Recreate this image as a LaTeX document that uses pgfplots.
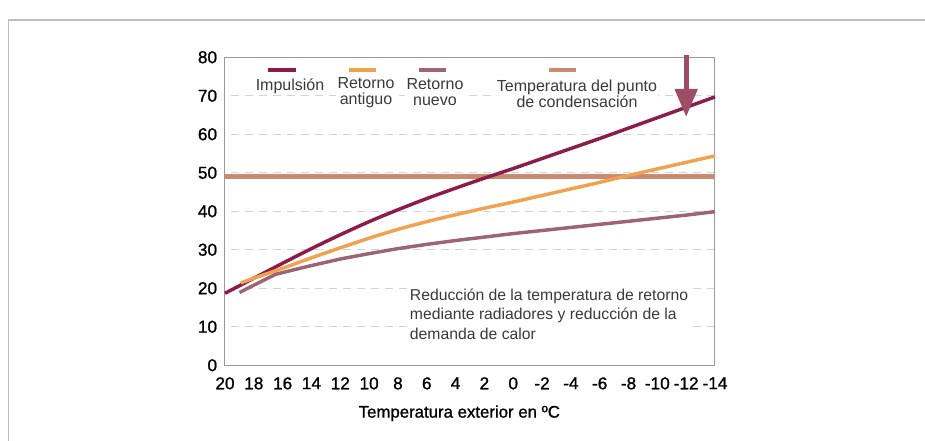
\documentclass[border=0pt]{standalone}
\usepackage{pgfplots}
\pgfplotsset{compat=1.18}
\usepackage{fontspec}
\setmainfont{Liberation Sans}
\newfontfamily\medfont{Liberation Sans}[FakeBold=1.1]
\usetikzlibrary{arrows.meta}
\definecolor{imp}{HTML}{8C1C4B}
\definecolor{ant}{HTML}{F0A24F}
\definecolor{nue}{HTML}{9C6474}
\definecolor{dew}{HTML}{CC8A70}
\definecolor{arr}{HTML}{9D4E66}
\definecolor{gridc}{HTML}{D4D4D4}
\definecolor{axisc}{HTML}{9A9A9A}
\definecolor{framec}{HTML}{BDBDBD}
\definecolor{txt}{HTML}{3A3A3A}
\begin{document}
\begin{tikzpicture}
\useasboundingbox (0,0) rectangle (693.75pt,330.75pt);
\draw[framec, line width=0.9pt] (6.2pt,-5pt) -- (6.2pt,315.75pt) -- (700pt,315.75pt);
\begin{axis}[
  at={(168.75pt,56.8pt)}, anchor=south west,
  scale only axis, width=367.5pt, height=231pt,
  xmin=-14, xmax=20, x dir=reverse, ymin=0, ymax=80,
  xtick={20,18,...,-14}, ytick={0,10,...,80},
  ymajorgrids,
  grid style={dash pattern=on 6pt off 4.5pt, color=gridc, line width=1.1pt},
  axis line style={color=axisc, line width=0.75pt},
  major tick length=0pt,
  /pgf/number format/assume math mode=true,
  tick label style={font=\medfont\fontsize{12.9}{14}\selectfont, color=black},
  xticklabel shift=5.5pt,
  yticklabel shift=2.4pt,
  xlabel={Temperatura exterior en ºC},
  xlabel style={font=\medfont\fontsize{12.6}{14}\selectfont, color=black, anchor=center, at={(axis description cs:0.5,0)}, yshift=-36pt, xshift=-8pt},
  clip=false,
]
\addplot[dew, line width=3.5pt] coordinates {(20,49) (-14,49)};
\addplot[imp, line width=2.6pt, smooth] coordinates {
(20,18.7) (18,22.6) (16,26.5) (14,30.3) (12,33.9) (10,37.3) (8,40.4) (6,43.3) (4,46.0) (2,48.6) (0,51.1) (-2,53.7) (-4,56.3) (-6,58.9) (-8,61.6) (-10,64.3) (-12,67.0) (-14,69.7)};
\addplot[ant, line width=2.6pt, smooth] coordinates {
(18.9,21.4) (18,22.6) (16,25.2) (14,27.9) (12,30.5) (10,33.0) (8,35.3) (6,37.3) (4,39.1) (2,40.8) (0,42.4) (-2,44.1) (-4,45.8) (-6,47.5) (-8,49.3) (-10,51.0) (-12,52.7) (-14,54.4)};
\addplot[nue, line width=2.6pt] coordinates {
(19,18.9) (16.5,23.6) (15,25.0) (14,25.9) (12,27.6) (10,29.0) (8,30.3) (6,31.4) (4,32.4) (2,33.3) (0,34.2) (-2,35.0) (-4,35.8) (-6,36.6) (-8,37.4) (-10,38.2) (-12,39.0) (-14,39.9)};
\draw[arr, line width=3.75pt, -{Triangle[width=16.5pt,length=21pt]}] (axis cs:-12,80.5) -- (axis cs:-12,64.5);
\end{axis}
\begin{scope}[x=0.75pt,y=-0.75pt,yshift=330.75pt]
\tikzset{lg/.style={font=\fontsize{12}{12}\selectfont, color=txt, align=center, fill=white, inner sep=1pt}}
\draw[imp, line width=3pt] (268,70) -- (296,70);
\draw[ant, line width=3pt] (349,70) -- (376,70);
\draw[nue, line width=3pt] (419,70) -- (446,70);
\draw[dew, line width=3pt] (549,70) -- (576,70);
\node[lg] at (290,86) {Impulsión};
\node[lg] at (366,92.5) {Retorno\\antiguo};
\node[lg] at (435,92.5) {Retorno\\nuevo};
\node[lg] at (577,93.5) {Temperatura del punto\\de condensación};
\node[font=\fontsize{11.8}{14.6}\selectfont, color=txt, align=left, fill=white, inner sep=2pt, anchor=north west] at (407,286) {Reducción de la temperatura de retorno\\mediante radiadores y reducción de la\\demanda de calor};
\end{scope}
\end{tikzpicture}
\end{document}
